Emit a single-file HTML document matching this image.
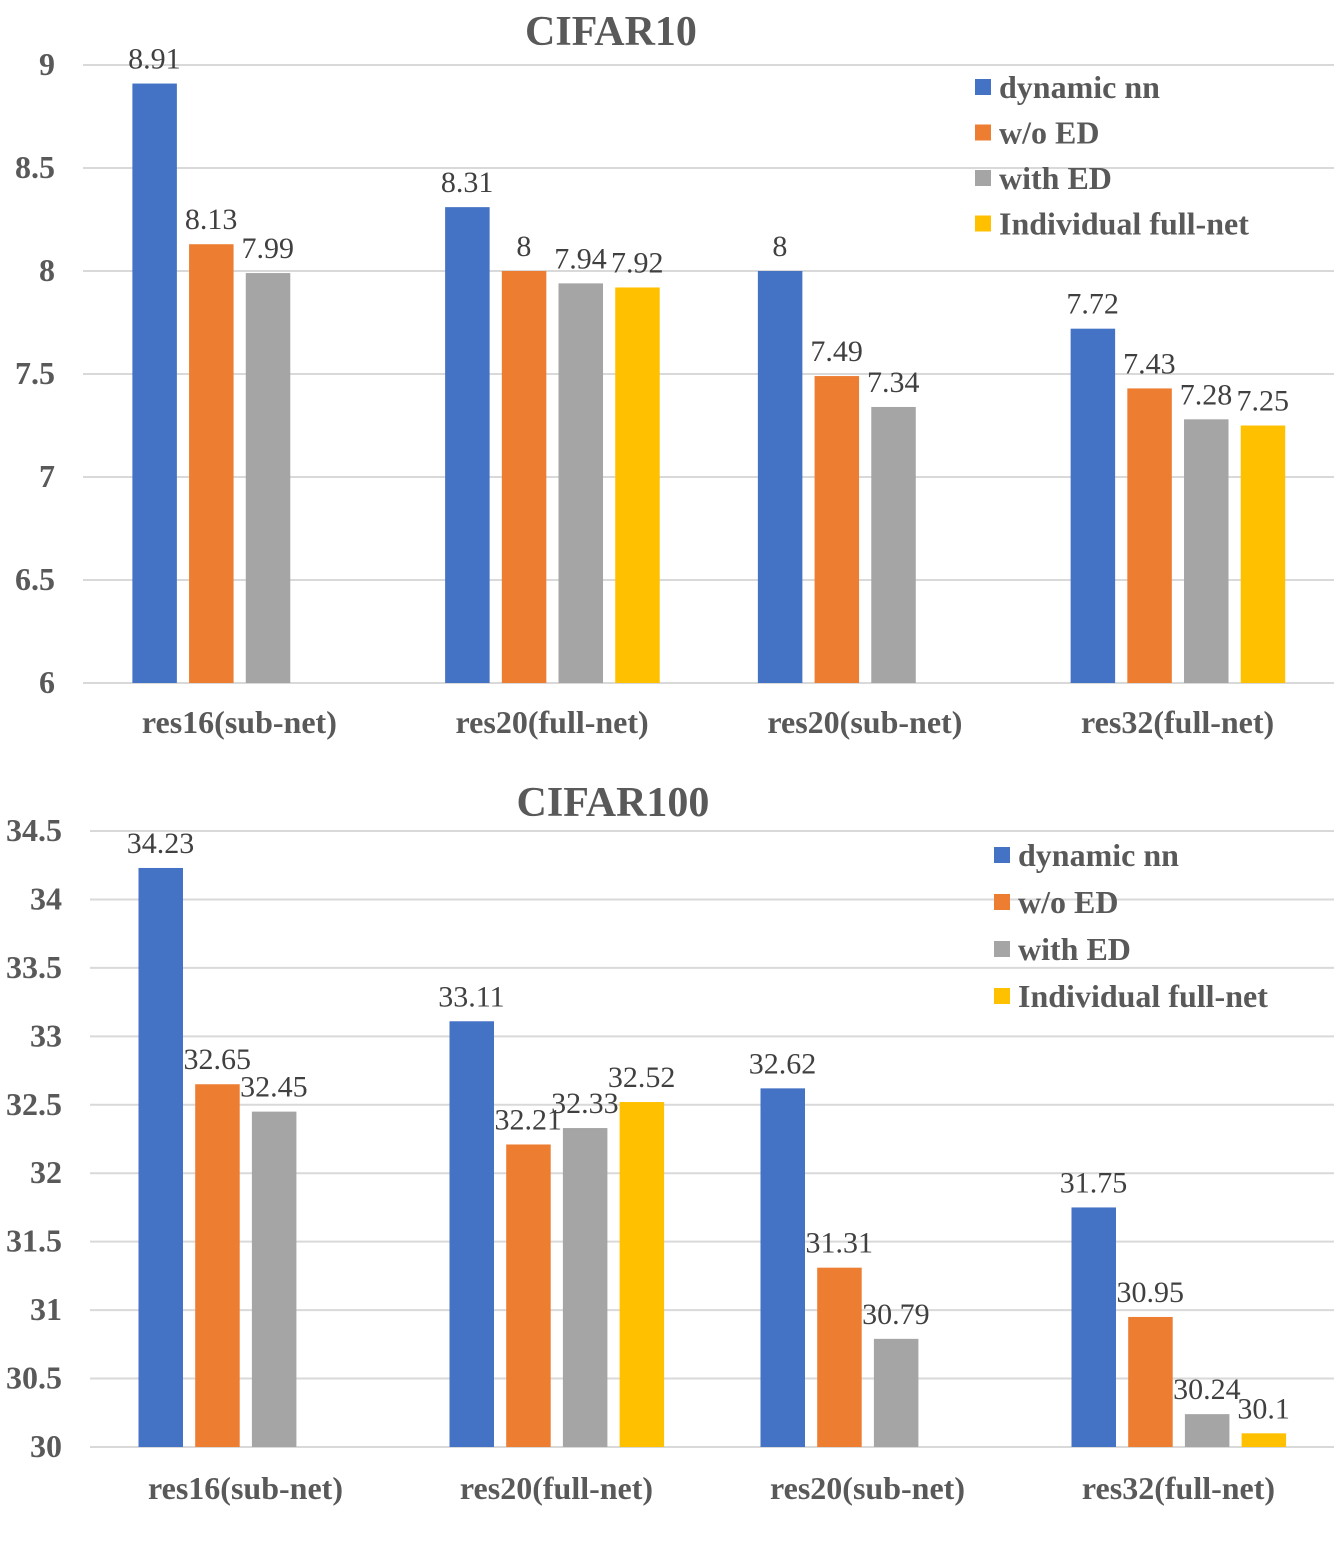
<!DOCTYPE html>
<html><head><meta charset="utf-8"><style>
body{margin:0;background:#fff;}
svg{display:block;font-family:"Liberation Serif",serif;}
</style></head><body>
<svg id="c" width="1334" height="1559" viewBox="0 0 1334 1559"></svg>
<script>
const categories = ["res16(sub-net)","res20(full-net)","res20(sub-net)","res32(full-net)"];
const seriesNames = ["dynamic nn","w/o ED","with ED","Individual full-net"];
const colors = ["#4472C4","#ED7D31","#A5A5A5","#FFC000"];
const c10Dynamic = [8.91, 8.31, 8, 7.72];
const c10WoED = [8.13, 8, 7.49, 7.43];
const c10WithED = [7.99, 7.94, 7.34, 7.28];
const c10Individual = [null, 7.92, null, 7.25];
const c10Ticks = ["6","6.5","7","7.5","8","8.5","9"];
const c100Dynamic = [34.23, 33.11, 32.62, 31.75];
const c100WoED = [32.65, 32.21, 31.31, 30.95];
const c100WithED = [32.45, 32.33, 30.79, 30.24];
const c100Individual = [null, 32.52, null, 30.1];
const c100Ticks = ["30","30.5","31","31.5","32","32.5","33","33.5","34","34.5"];

const NS="http://www.w3.org/2000/svg";
const svg=document.getElementById('c');
function mk(tag,attrs,parent,text){const e=document.createElementNS(NS,tag);for(const k in attrs)e.setAttribute(k,attrs[k]);if(text!==undefined)e.textContent=text;(parent||svg).appendChild(e);return e;}

function chart(cfg){
  const g=mk('g',{});
  
  
  const ticks=cfg.ticks.map(Number);
  const min=ticks[0],max=ticks[ticks.length-1];
  const y=v=>cfg.y0-(v-min)/(max-min)*(cfg.y0-cfg.y1);
  const bw=(cfg.x1-cfg.x0)/categories.length;
  const cx=i=>cfg.x0+bw*(i+0.5);
  const t=mk('text',{x:cfg.titleX,y:cfg.titleY,'text-anchor':'middle','font-size':42,'font-weight':'bold',fill:'#595959'},g,cfg.title);
  
  
  cfg.ticks.forEach(tk=>{
    const yy=y(Number(tk));
    const l=mk('line',{x1:cfg.x0,x2:cfg.x1,y1:yy,y2:yy,stroke:'#d9d9d9','stroke-width':2},g);
    
    
    const tl=mk('text',{x:cfg.tickX,y:yy+10,'text-anchor':'end','font-size':32,'font-weight':'bold',fill:'#595959'},g,tk);
    
    
  });
  categories.forEach((cat,i)=>{
    cfg.series.forEach((s,j)=>{
      const v=s[i]; if(v===null||v===undefined)return;
      const x=cx(i)-107+j*56.7;
      const r=mk('rect',{x:x,y:y(v),width:44.5,height:cfg.y0-y(v),fill:colors[j]},g);
      
      
      const vl=mk('text',{x:x+22,y:y(v)-15,'text-anchor':'middle','font-size':30,fill:'#404040'},g,String(v));
      
      
    });
    const cl=mk('text',{x:cx(i),y:cfg.catY,'text-anchor':'middle','font-size':32,'font-weight':'bold',fill:'#595959'},g,cat);
    
    
  });
  seriesNames.forEach((n,j)=>{
    const yy=cfg.legY+j*cfg.legStep;
    const lg=mk('g',{},g);
    
    
    mk('rect',{x:cfg.legX,y:yy-8,width:16,height:16,fill:colors[j]},lg);
    mk('text',{x:cfg.legX+24,y:yy+11,'font-size':32,'font-weight':'bold',fill:'#595959'},lg,n);
  });
}
chart({name:'cifar10-chart',title:'CIFAR10',titleX:611,titleY:45,ticks:c10Ticks,y0:683,y1:65,x0:83,x1:1334,tickX:55,catY:733,
  series:[c10Dynamic,c10WoED,c10WithED,c10Individual],legX:975,legY:87,legStep:45.5});
chart({name:'cifar100-chart',title:'CIFAR100',titleX:613,titleY:816,ticks:c100Ticks,y0:1447,y1:831,x0:90,x1:1334,tickX:62,catY:1499,
  series:[c100Dynamic,c100WoED,c100WithED,c100Individual],legX:994,legY:855,legStep:47});
</script>
</body></html>
